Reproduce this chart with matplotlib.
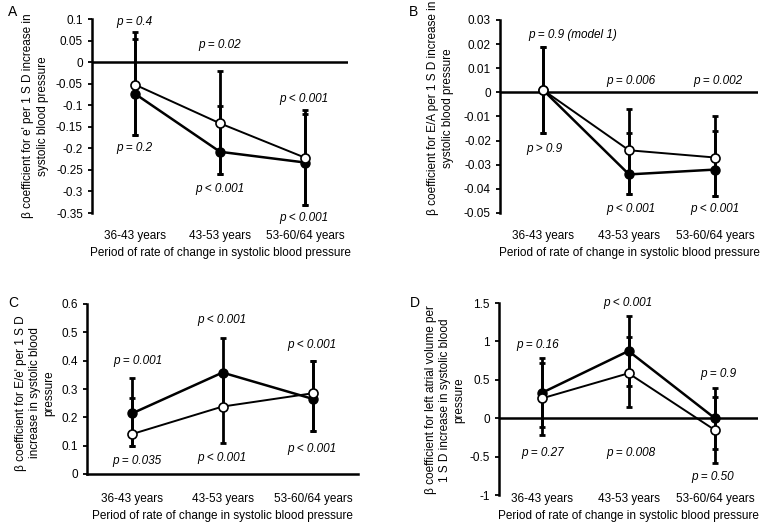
import matplotlib
matplotlib.use("Agg")
import matplotlib.pyplot as plt
from matplotlib.transforms import blended_transform_factory

plt.rcParams["font.family"] = ["Liberation Sans", "DejaVu Sans"]
plt.rcParams["font.size"] = 8.5

W, H = 763, 523

periods = ["36-43 years", "43-53 years", "53-60/64 years"]
xpos = [0.5, 1.5, 2.5]
xlabel = "Period of rate of change in systolic blood pressure"

# ---- panel A: e' ----
a_filled = [-0.073, -0.208, -0.233]
a_filled_lo = [-0.169, -0.26, -0.332]
a_filled_hi = [0.053, -0.101, -0.121]
a_open = [-0.052, -0.142, -0.222]
a_open_lo = [-0.169, -0.26, -0.332]
a_open_hi = [0.071, -0.02, -0.111]
a_yticks = [0.1, 0.05, 0, -0.05, -0.1, -0.15, -0.2, -0.25, -0.3, -0.35]
a_notes = [("p = 0.4", 0.5, 0.093), ("p = 0.02", 1.5, 0.04), ("p < 0.001", 2.48, -0.086),
           ("p = 0.2", 0.5, -0.20), ("p < 0.001", 1.5, -0.294), ("p < 0.001", 2.48, -0.362)]

# ---- panel B: E/A ----
b_filled = [0.001, -0.034, -0.032]
b_filled_lo = [-0.017, -0.042, -0.043]
b_filled_hi = [0.019, -0.017, -0.016]
b_open = [0.001, -0.024, -0.027]
b_open_lo = [-0.017, -0.042, -0.043]
b_open_hi = [0.019, -0.007, -0.010]
b_yticks = [0.03, 0.02, 0.01, 0, -0.01, -0.02, -0.03, -0.04, -0.05]
b_notes = [("p = 0.9 (model 1)", 0.85, 0.0238), ("p = 0.006", 1.52, 0.0047), ("p = 0.002", 2.53, 0.0047),
           ("p > 0.9", 0.51, -0.0235), ("p < 0.001", 1.52, -0.0483), ("p < 0.001", 2.5, -0.0483)]

# ---- panel C: E/e' ----
c_filled = [0.214, 0.358, 0.265]
c_filled_lo = [0.10, 0.238, 0.152]
c_filled_hi = [0.338, 0.479, 0.40]
c_open = [0.141, 0.238, 0.285]
c_open_lo = [0.10, 0.11, 0.152]
c_open_hi = [0.269, 0.358, 0.40]
c_yticks = [0, 0.1, 0.2, 0.3, 0.4, 0.5, 0.6]
c_notes = [("p < 0.001", 1.49, 0.544), ("p < 0.001", 2.49, 0.455), ("p = 0.001", 0.56, 0.399),
           ("p = 0.035", 0.55, 0.046), ("p < 0.001", 1.49, 0.056), ("p < 0.001", 2.49, 0.088)]

# ---- panel D: left atrial volume ----
d_filled = [0.332, 0.875, 0.0]
d_filled_lo = [-0.12, 0.42, -0.40]
d_filled_hi = [0.78, 1.33, 0.397]
d_open = [0.259, 0.585, -0.154]
d_open_lo = [-0.219, 0.15, -0.587]
d_open_hi = [0.715, 1.06, 0.27]
d_yticks = [-1, -0.5, 0, 0.5, 1, 1.5]
d_notes = [("p < 0.001", 1.49, 1.5), ("p = 0.16", 0.45, 0.953), ("p = 0.9", 2.54, 0.575),
           ("p = 0.27", 0.51, -0.453), ("p = 0.008", 1.53, -0.453), ("p = 0.50", 2.47, -0.766)]


def px_axes(fig, left, top, right, bottom):
    return fig.add_axes([left / W, 1 - bottom / H, (right - left) / W, (bottom - top) / H])


def panel(fig, box, mean_f, lo_f, hi_f, mean_o, lo_o, hi_o, yticks, notes,
          ylabel, ylab_x, ylab_y, letter, letter_xy, ticklab_y, xlab_y, zero_spine=False):
    ax = px_axes(fig, *box)
    ax.set_xlim(0, 3)
    ax.set_ylim(min(yticks), max(yticks))
    lw_axis = 1.8

    # error bars (filled series, then open series)
    for m, lo, hi in [(mean_f, lo_f, hi_f), (mean_o, lo_o, hi_o)]:
        err = [[a - b for a, b in zip(m, lo)], [b - a for a, b in zip(m, hi)]]
        ax.errorbar(xpos, m, yerr=err, fmt="none", ecolor="black",
                    elinewidth=2.0, capsize=2.5, capthick=2.0, zorder=3)

    ax.plot(xpos, mean_f, "-o", color="black", lw=1.8, ms=6.5,
            mfc="black", mec="black", zorder=4)
    ax.plot(xpos, mean_o, "-o", color="black", lw=1.4, ms=6.5,
            mfc="white", mec="black", mew=1.2, zorder=5)

    for s in ["top", "right"]:
        ax.spines[s].set_visible(False)
    ax.spines["left"].set_linewidth(lw_axis)
    if zero_spine:
        ax.spines["bottom"].set_linewidth(lw_axis)
    else:
        ax.spines["bottom"].set_visible(False)
        ax.axhline(0, color="black", lw=lw_axis, zorder=2)

    ax.set_xticks([])
    ax.set_yticks(yticks)
    ax.set_yticklabels([f"{v:g}" for v in yticks])
    ax.tick_params(axis="y", length=3, width=1.3, pad=3.5, labelsize=8.5)
    ax.patch.set_alpha(0)

    # category labels sit at a fixed height below the plot
    trans = blended_transform_factory(ax.transData, fig.transFigure)
    for x, lab in zip(xpos, periods):
        ax.text(x, 1 - ticklab_y / H, lab, transform=trans, ha="center", va="center")
    l, _, r, _ = box
    fig.text((l + r) / 2 / W, 1 - xlab_y / H, xlabel, ha="center", va="center")

    for txt, x, y in notes:
        ax.text(x, y, txt, style="italic", ha="center", va="center", clip_on=False)

    fig.text(ylab_x / W, 1 - ylab_y / H, ylabel, rotation=90, ha="center",
             va="center", multialignment="center", linespacing=1.25)
    fig.text(letter_xy[0] / W, 1 - letter_xy[1] / H, letter, fontsize=10,
             ha="center", va="center")
    return ax


fig = plt.figure(figsize=(W / 100, H / 100), dpi=100)

panel(fig, (92, 19, 348, 213), a_filled, a_filled_lo, a_filled_hi,
      a_open, a_open_lo, a_open_hi, a_yticks, a_notes,
      "β coefficient for e' per 1 S D increase in\nsystolic blood pressure",
      35.5, 116, "A", (13, 12), 236, 253)

panel(fig, (500, 20, 758, 213), b_filled, b_filled_lo, b_filled_hi,
      b_open, b_open_lo, b_open_hi, b_yticks, b_notes,
      "β coefficient for E/A per 1 S D increase in\nsystolic blood pressure",
      440.5, 108, "B", (413, 12), 236, 253)

panel(fig, (87, 304, 358, 474), c_filled, c_filled_lo, c_filled_hi,
      c_open, c_open_lo, c_open_hi, c_yticks, c_notes,
      "β coefficient for E/e' per 1 S D\nincrease in systolic blood\npressure",
      35, 393, "C", (13, 303), 499, 516, zero_spine=True)

panel(fig, (499, 303, 758, 495), d_filled, d_filled_lo, d_filled_hi,
      d_open, d_open_lo, d_open_hi, d_yticks, d_notes,
      "β coefficient for left atrial volume per\n1 S D increase in systolic blood\npressure",
      445, 400, "D", (415, 303), 499, 516)

fig.savefig("out.png", dpi=100)
